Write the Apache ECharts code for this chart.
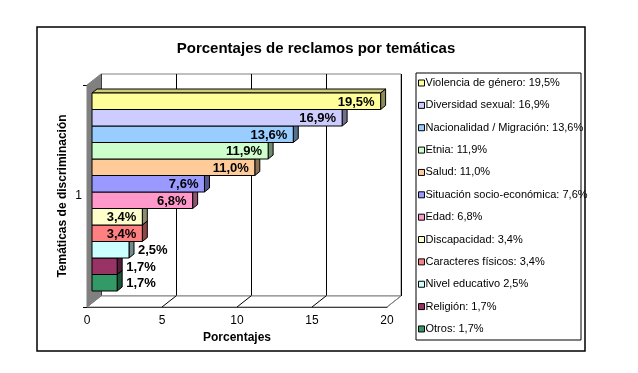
<!DOCTYPE html>
<html>
<head>
<meta charset="utf-8">
<script src="https://cdn.jsdelivr.net/npm/echarts@6/dist/echarts.min.js"></script>
<style>html,body{margin:0;padding:0;background:#fff}#c{width:638px;height:373px}</style>
</head>
<body>
<div id="c"></div>
<script>
// ---- data ----
const categories = ['1'];
const seriesNames = [
  'Violencia de género: 19,5%',
  'Diversidad sexual: 16,9%',
  'Nacionalidad / Migración: 13,6%',
  'Etnia: 11,9%',
  'Salud: 11,0%',
  'Situación socio-económica: 7,6%',
  'Edad: 6,8%',
  'Discapacidad: 3,4%',
  'Caracteres físicos: 3,4%',
  'Nivel educativo 2,5%',
  'Religión: 1,7%',
  'Otros: 1,7%'
];
const values = [19.5, 16.9, 13.6, 11.9, 11.0, 7.6, 6.8, 3.4, 3.4, 2.5, 1.7, 1.7];
const valueLabels = ['19,5%', '16,9%', '13,6%', '11,9%', '11,0%', '7,6%', '6,8%', '3,4%', '3,4%', '2,5%', '1,7%', '1,7%'];
const colors = ['#FFFF99', '#CCCCFF', '#99CCFF', '#CCFFCC', '#FFCC99', '#9999FF', '#FF99CC', '#FFFFCC', '#FF8080', '#CCFFFF', '#993366', '#339966'];
const xMin = 0, xMax = 20, xInterval = 5;
const xTickValues = [5, 10, 15, 20];

// ---- helpers ----
function shade(hex, f) {
  const n = parseInt(hex.slice(1), 16);
  const r = Math.round(((n >> 16) & 255) * f), g = Math.round(((n >> 8) & 255) * f), b = Math.round((n & 255) * f);
  return 'rgb(' + r + ',' + g + ',' + b + ')';
}
const WALL_OFF = [14, -11];
const BAR_OFF = [5, -4];
const labelFont = 'bold 13px "Liberation Sans Narrow", "Liberation Sans", Arial, sans-serif';

const chart = echarts.init(document.getElementById('c'), null, { renderer: 'canvas' });

const barSeries = seriesNames.map((name, i) => ({
  name: name,
  type: 'custom',
  xAxisIndex: 2,
  yAxisIndex: 3,
  z: 40 - i,
  itemStyle: { color: colors[i] },
  data: [[values[i], i]],
  renderItem: function (params, api) {
    const v = api.value(0), idx = api.value(1);
    const p0 = api.coord([0, idx]);
    const p1 = api.coord([v, idx + 1]);
    const x0 = p0[0], y0 = Math.min(p0[1], p1[1]), x1 = p1[0], y1 = Math.max(p0[1], p1[1]);
    const dx = BAR_OFF[0], dy = BAR_OFF[1];
    const c = colors[i];
    const inside = (x1 - x0) > 45;
    return {
      type: 'group',
      children: [
        { type: 'polygon', shape: { points: [[x0, y0], [x1, y0], [x1 + dx, y0 + dy], [x0 + dx, y0 + dy]] },
          style: { fill: shade(c, 0.8), stroke: '#000', lineWidth: 1 } },
        { type: 'polygon', shape: { points: [[x1, y0], [x1 + dx, y0 + dy], [x1 + dx, y1 + dy], [x1, y1]] },
          style: { fill: shade(c, 0.55), stroke: '#000', lineWidth: 1 } },
        { type: 'rect', shape: { x: x0, y: y0, width: x1 - x0, height: y1 - y0 },
          style: { fill: c, stroke: '#000', lineWidth: 1 } },
        { type: 'text', z2: 10, style: {
            text: valueLabels[i],
            x: inside ? x1 - 6 : x1 + dx + 4,
            y: (y0 + y1) / 2 + 1,
            align: inside ? 'right' : 'left',
            verticalAlign: 'middle',
            font: labelFont,
            fill: '#000'
        } }
      ]
    };
  }
}));

const wallSeries = {
  type: 'custom',
  xAxisIndex: 0,
  yAxisIndex: 1,
  z: 5,
  silent: true,
  data: [[0, 0]],
  renderItem: function (params, api) {
    const fb0 = api.coord([xMin, 0]);
    const ft0 = api.coord([xMin, 1]);
    const fbMax = api.coord([xMax, 0]);
    const add = (p) => [p[0] + WALL_OFF[0], p[1] + WALL_OFF[1]];
    const children = [
      { type: 'polygon', shape: { points: [fb0, fbMax, add(fbMax), add(fb0)] },
        style: { fill: '#fff', stroke: '#808080', lineWidth: 1 } },
      { type: 'polygon', shape: { points: [ft0, add(ft0), add(fb0), fb0] },
        style: { fill: '#808080', stroke: '#808080', lineWidth: 1 } }
    ];
    xTickValues.forEach((t) => {
      const p = api.coord([t, 0]);
      children.push({ type: 'line', shape: { x1: p[0], y1: p[1], x2: p[0] + WALL_OFF[0], y2: p[1] + WALL_OFF[1] },
        style: { stroke: t === xMax ? '#808080' : '#000', lineWidth: 1 } });
    });
    return { type: 'group', children: children };
  }
};

const option = {
  backgroundColor: '#fff',
  animation: false,
  textStyle: { fontFamily: '"Liberation Sans", Arial, sans-serif' },
  title: {
    text: 'Porcentajes de reclamos por temáticas',
    left: 311, top: 36, textAlign: 'center',
    textStyle: { fontSize: 15, fontWeight: 'bold', color: '#000', fontFamily: '"Liberation Sans", Arial, sans-serif' }
  },
  legend: {
    orient: 'vertical',
    left: 418, top: 77,
    data: seriesNames,
    itemWidth: 6, itemHeight: 6,
    itemGap: 10.36,
    icon: 'rect',
    padding: 0,
    itemStyle: { borderColor: '#000', borderWidth: 1 },
    selectedMode: false,
    textStyle: { fontSize: 11, lineHeight: 12, color: '#000', padding: [0, 0, 0, -4], fontFamily: '"Liberation Sans", Arial, sans-serif' }
  },
  graphic: [
    { type: 'rect', shape: { x: 416, y: 73, width: 165, height: 267 }, style: { fill: 'none', stroke: '#000', lineWidth: 1 }, z: 100 },
    { type: 'rect', shape: { x: 37, y: 27, width: 548, height: 324 }, style: { fill: 'none', stroke: '#000', lineWidth: 1.5 }, z: 100 }
  ],
  grid: [
    { left: 87, top: 85, width: 300, height: 222, containLabel: false },
    { left: 101, top: 74, width: 300, height: 222, show: true, backgroundColor: '#fff', borderColor: '#808080', borderWidth: 1, z: 0 },
    { left: 92, top: 93, width: 296, height: 198 }
  ],
  xAxis: [
    { gridIndex: 0, type: 'value', min: xMin, max: xMax, interval: xInterval,
      name: 'Porcentajes', nameLocation: 'middle', nameGap: 23,
      nameTextStyle: { fontSize: 12, fontWeight: 'bold', color: '#000' },
      axisLine: { show: true, lineStyle: { color: '#000', width: 1 } },
      axisTick: { show: false },
      axisLabel: { color: '#000', fontSize: 12, margin: 8 },
      splitLine: { show: false } },
    { gridIndex: 1, type: 'value', min: xMin, max: xMax, interval: xInterval,
      axisLine: { show: false }, axisTick: { show: false }, axisLabel: { show: false },
      splitLine: { show: true, lineStyle: { color: '#000', width: 1 } } },
    { gridIndex: 2, type: 'value', min: xMin, max: xMax, show: false }
  ],
  yAxis: [
    { gridIndex: 0, type: 'category', data: categories, inverse: true,
      name: 'Temáticas de discriminación', nameLocation: 'middle', nameGap: 18, nameRotate: 90,
      nameTextStyle: { fontSize: 12, fontWeight: 'bold', color: '#000' },
      axisLine: { show: true, lineStyle: { color: '#000', width: 1 } },
      axisTick: { show: true, length: 4, lineStyle: { color: '#000' } },
      axisLabel: { color: '#000', fontSize: 12, margin: 5 } },
    { gridIndex: 0, type: 'value', min: 0, max: 1, show: false },
    { gridIndex: 1, type: 'value', min: 0, max: 1, show: false },
    { gridIndex: 2, type: 'value', min: 0, max: values.length, inverse: true, show: false }
  ],
  series: [wallSeries].concat(barSeries)
};
chart.setOption(option);
</script>
</body>
</html>
